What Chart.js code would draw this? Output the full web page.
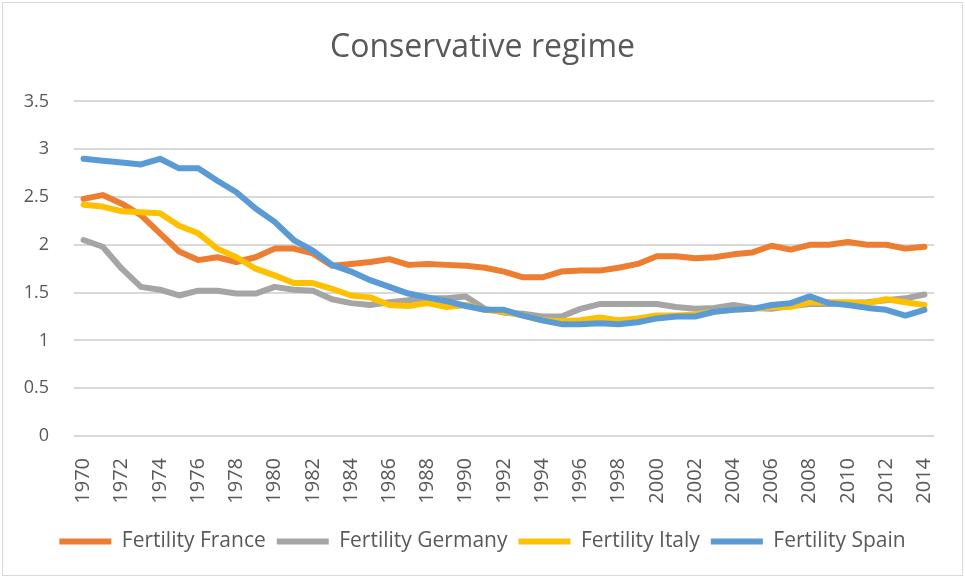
<!DOCTYPE html>
<html lang="en">
<head>
    <meta charset="UTF-8">
    <title>Conservative regime</title>
    <script src="https://cdn.jsdelivr.net/npm/chart.js"></script>
    <style>
        body { margin: 0; background: #fff; }
        #wrap { position: relative; width: 965px; height: 578px; }
        #frame { position: absolute; left: 2px; top: 2px; right: 2px; bottom: 2px; border: 1px solid #d9d9d9; pointer-events: none; }
    </style>
</head>
<body>
    <div id="wrap">
        <canvas id="fertilityChart" width="965" height="578"></canvas>
        <div id="frame"></div>
    </div>

    <script>
        // Total fertility rate, 1970-2014
        const years = [];
        for (let y = 1970; y <= 2014; y++) years.push(String(y));

        const france = [
            2.48, 2.52, 2.43, 2.31, 2.12, 1.93, 1.84, 1.87, 1.82, 1.87,
            1.96, 1.96, 1.91, 1.78, 1.80, 1.82, 1.85, 1.79, 1.80, 1.79,
            1.78, 1.76, 1.72, 1.66, 1.66, 1.72, 1.73, 1.73, 1.76, 1.80,
            1.88, 1.88, 1.86, 1.87, 1.90, 1.92, 1.99, 1.95, 2.00, 2.00,
            2.03, 2.00, 2.00, 1.96, 1.98
        ];
        const germany = [
            2.05, 1.98, 1.75, 1.56, 1.53, 1.47, 1.52, 1.52, 1.49, 1.49,
            1.56, 1.53, 1.52, 1.43, 1.39, 1.37, 1.40, 1.42, 1.44, 1.44,
            1.46, 1.33, 1.29, 1.28, 1.25, 1.25, 1.33, 1.38, 1.38, 1.38,
            1.38, 1.35, 1.33, 1.34, 1.37, 1.34, 1.33, 1.36, 1.38, 1.38,
            1.39, 1.40, 1.42, 1.44, 1.48
        ];
        const italy = [
            2.42, 2.40, 2.35, 2.34, 2.33, 2.20, 2.12, 1.96, 1.87, 1.75,
            1.68, 1.60, 1.60, 1.54, 1.47, 1.45, 1.37, 1.36, 1.39, 1.35,
            1.37, 1.32, 1.30, 1.26, 1.21, 1.20, 1.21, 1.24, 1.21, 1.23,
            1.26, 1.26, 1.27, 1.30, 1.32, 1.33, 1.35, 1.35, 1.40, 1.40,
            1.40, 1.39, 1.43, 1.40, 1.37
        ];
        const spain = [
            2.90, 2.88, 2.86, 2.84, 2.90, 2.80, 2.80, 2.67, 2.55, 2.38,
            2.24, 2.05, 1.94, 1.79, 1.72, 1.63, 1.56, 1.49, 1.45, 1.41,
            1.36, 1.32, 1.32, 1.26, 1.21, 1.17, 1.17, 1.18, 1.17, 1.19,
            1.23, 1.25, 1.25, 1.30, 1.32, 1.33, 1.37, 1.39, 1.46, 1.39,
            1.37, 1.34, 1.32, 1.26, 1.32
        ];

        const textColor = '#595959';
        const font = 'Open Sans';

        function series(label, data, color, order) {
            return {
                label: label,
                data: data,
                borderColor: color,
                backgroundColor: color,
                borderWidth: 6,
                borderCapStyle: 'round',
                borderJoinStyle: 'round',
                pointRadius: 0,
                tension: 0,
                order: order
            };
        }

        const ctx = document.getElementById('fertilityChart').getContext('2d');
        new Chart(ctx, {
            type: 'line',
            data: {
                labels: years,
                datasets: [
                    series('Fertility France', france, '#ED7D31', 4),
                    series('Fertility Germany', germany, '#A5A5A5', 3),
                    series('Fertility Italy', italy, '#FFC000', 2),
                    series('Fertility Spain', spain, '#5B9BD5', 1)
                ]
            },
            options: {
                responsive: false,
                animation: false,
                layout: { padding: { top: 0, right: 0, bottom: 16, left: 0 } },
                plugins: {
                    title: {
                        display: true,
                        text: 'Conservative regime',
                        color: textColor,
                        font: { family: font, size: 32, weight: 'normal' },
                        padding: { top: 29, bottom: 34 }
                    },
                    legend: {
                        position: 'bottom',
                        labels: {
                            usePointStyle: true,
                            pointStyle: 'line',
                            pointStyleWidth: 52,
                            padding: 11,
                            color: textColor,
                            font: { family: font, size: 21 },
                            sort: (a, b) => a.datasetIndex - b.datasetIndex
                        }
                    },
                    tooltip: { enabled: false }
                },
                scales: {
                    x: {
                        offset: true,
                        grid: { display: false },
                        border: { display: false },
                        afterFit: (scale) => { scale.height = 84; },
                        ticks: {
                            autoSkip: false,
                            minRotation: 90,
                            maxRotation: 90,
                            padding: 14,
                            color: textColor,
                            font: { family: font, size: 20 },
                            callback: function (value, index) {
                                return index % 2 === 0 ? this.getLabelForValue(value) : '';
                            }
                        }
                    },
                    y: {
                        min: 0,
                        max: 3.5,
                        afterFit: (scale) => { scale.width = 74; },
                        grid: { color: '#d9d9d9', lineWidth: 2, drawTicks: false },
                        border: { display: false },
                        ticks: {
                            stepSize: 0.5,
                            padding: 25,
                            color: textColor,
                            font: { family: font, size: 18 },
                            callback: (value) => String(value)
                        }
                    },
                    // empty right-hand axis, only keeps the plot clear of the right edge
                    spacer: {
                        position: 'right',
                        grid: { display: false },
                        border: { display: false },
                        ticks: { display: false },
                        afterFit: (scale) => { scale.width = 31; }
                    }
                }
            }
        });
    </script>
</body>
</html>
